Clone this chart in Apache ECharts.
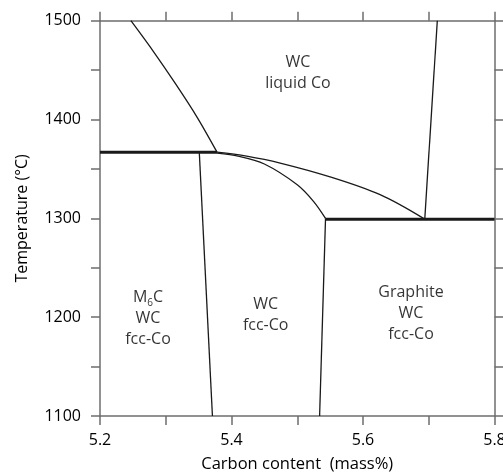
<!DOCTYPE html>
<html>
<head>
<meta charset="utf-8">
<script src="https://cdn.jsdelivr.net/npm/echarts@6/dist/echarts.min.js"></script>
<style>html,body{margin:0;padding:0;background:#fff}#c{width:503px;height:475px}</style>
</head>
<body>
<div id="c"></div>
<script>
// Phase boundaries (carbon mass%, temperature °C)
const liquidusLeft = [[5.247,1500],[5.280,1470],[5.315,1436],[5.348,1402],[5.378,1367]];
const eutecticUpper = [[5.2,1367],[5.378,1367]];
const m6cBoundary = [[5.351,1367],[5.371,1100]];
const upperCurve = [[5.378,1367],[5.423,1363],[5.474,1356],[5.550,1342],[5.626,1324],[5.692,1300]];
const lowerCurve = [[5.378,1366],[5.410,1363],[5.450,1355],[5.500,1334],[5.525,1317],[5.543,1300]];
const eutecticLower = [[5.543,1299],[5.8,1299]];
const graphiteBoundary = [[5.543,1300],[5.534,1100]];
const liquidusRight = [[5.713,1500],[5.694,1300]];
// Region labels
const regionLabels = [
  {pos:[5.501,1447], text:'WC\nliquid Co'},
  {pos:[5.273,1199], text:'{n|M}{s|6}{n|C}\n{n|WC}\n{n|fcc-Co}'},
  {pos:[5.452,1202], text:'WC\nfcc-Co'},
  {pos:[5.673,1204], text:'Graphite\nWC\nfcc-Co'}
];
const xTicks = {min:5.2, max:5.8, step:0.1};
const yTicks = {min:1100, max:1500, step:50};

const FONT = 'Open Sans';
const FW = 500;
const TXT = '#000';
const lineColor = '#1a1a1a';
const axisColor = '#6e6e6e';

function lineSeries(data, width, smooth){
  return {type:'line', data:data, smooth:smooth||false, symbol:'none', silent:true,
    lineStyle:{color:lineColor, width:width}, xAxisIndex:0, yAxisIndex:0};
}

const chart = echarts.init(document.getElementById('c'));
const axisCommon = {
  axisLine:{show:true, lineStyle:{color:axisColor, width:1.5}},
  axisTick:{show:true, inside:false, length:9, lineStyle:{color:axisColor, width:1.5}},
  splitLine:{show:false}
};
chart.setOption({
  animation:false,
  grid:{left:100, right:8.5, top:20.7, bottom:59, containLabel:false, outerBoundsMode:'none'},
  xAxis:[
    Object.assign({type:'value', min:xTicks.min, max:xTicks.max, interval:xTicks.step, position:'bottom',
      name:'Carbon content  (mass%)', nameLocation:'middle', nameGap:40,
      nameTextStyle:{fontFamily:FONT, fontWeight:FW, fontSize:16.5, color:TXT},
      axisLabel:{fontFamily:FONT, fontWeight:FW, fontSize:16, color:TXT, margin:16, hideOverlap:false,
        formatter:v=>Math.round(v*10)%2===0 ? v.toFixed(1) : ''}}, axisCommon),
    Object.assign({type:'value', min:xTicks.min, max:xTicks.max, interval:xTicks.step, position:'top',
      axisLabel:{show:false}}, axisCommon)
  ],
  yAxis:[
    Object.assign({type:'value', min:yTicks.min, max:yTicks.max, interval:yTicks.step, position:'left',
      name:'Temperature (°C)', nameLocation:'middle', nameGap:70,
      nameTextStyle:{fontFamily:FONT, fontWeight:FW, fontSize:16, color:TXT},
      axisLabel:{fontFamily:FONT, fontWeight:FW, fontSize:16, color:TXT, margin:19,
        formatter:v=>v%100===0 ? String(v) : ''}}, axisCommon),
    Object.assign({type:'value', min:yTicks.min, max:yTicks.max, interval:yTicks.step, position:'right',
      axisLabel:{show:false}}, axisCommon)
  ],
  series:[
    lineSeries(liquidusLeft, 1.3, 0.3),
    lineSeries(eutecticUpper, 3),
    lineSeries(m6cBoundary, 1.3),
    lineSeries(upperCurve, 1.3, 0.35),
    lineSeries(lowerCurve, 1.3, 0.3),
    lineSeries(eutecticLower, 3),
    lineSeries(graphiteBoundary, 1.3),
    lineSeries(liquidusRight, 1.3),
    {type:'scatter', symbolSize:0, silent:true, itemStyle:{color:'transparent'},
      data:regionLabels.map(r=>({value:r.pos, label:{formatter:r.text}})),
      label:{show:true, position:'inside', fontFamily:FONT, fontWeight:FW, fontSize:16, color:TXT,
        textBorderWidth:0, textBorderColor:'transparent',
        lineHeight:21, align:'center', verticalAlign:'middle',
        rich:{n:{fontFamily:FONT, fontWeight:FW, fontSize:16, color:TXT, lineHeight:21, textBorderWidth:0},
              s:{fontFamily:FONT, fontWeight:FW, fontSize:10, color:TXT, lineHeight:21, textBorderWidth:0,
                 verticalAlign:'bottom', padding:[7,0,0,0]}}}}
  ]
});
</script>
</body>
</html>
